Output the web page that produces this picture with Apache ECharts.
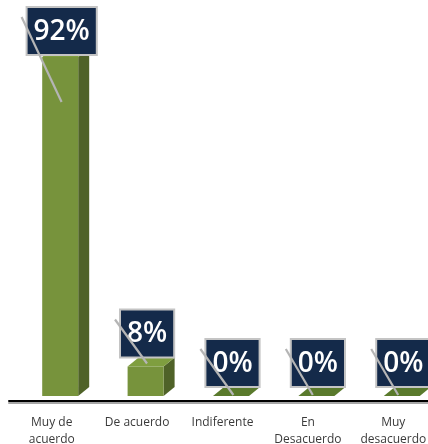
<!DOCTYPE html>
<html>
<head>
<meta charset="utf-8">
<script src="https://cdn.jsdelivr.net/npm/echarts@6/dist/echarts.min.js"></script>
<style>
  html, body { margin: 0; padding: 0; background: #ffffff; }
  #chart { width: 428px; height: 444px; }
</style>
</head>
<body>
<div id="chart"></div>
<script>
// Survey answers and their share of responses (%)
const categories = ['Muy de\nacuerdo', 'De acuerdo', 'Indiferente', 'En\nDesacuerdo', 'Muy\ndesacuerdo'];
const percentages = [92, 8, 0, 0, 0];
const valueLabels = ['92%', '8%', '0%', '0%', '0%'];

// Pseudo-3D bar geometry (pixels)
const BAR = { left: -9.5, width: 36, depthX: 11, depthY: 9, lift: 5 };
const BOX = { pad: 7, height: 48, minTop: 7, font: "600 28px 'Open Sans'" };
// Leader line end point relative to the label box (x from box left, y below box bottom)
const leaderEnd = [[35, 47], [27, 6], [28, 8], [22, 8], [22, 8]];

const measureCtx = document.createElement('canvas').getContext('2d');
function textWidth(str, font) {
  measureCtx.font = font;
  return measureCtx.measureText(str).width;
}

const chart = echarts.init(document.getElementById('chart'), null, { renderer: 'canvas' });

chart.setOption({
  backgroundColor: '#ffffff',
  animation: false,
  grid: { left: 9, width: 427, top: 32.5, bottom: 43, containLabel: false, outerBoundsMode: 'none' },
  xAxis: {
    type: 'category',
    data: categories,
    axisLine: {
      lineStyle: { color: '#000000', width: 2, shadowColor: '#a6a6a6', shadowOffsetY: 2, shadowBlur: 0 }
    },
    axisTick: { show: false },
    axisLabel: {
      interval: 0,
      color: '#3a3a3a',
      fontFamily: 'Open Sans',
      fontSize: 12,
      lineHeight: 17,
      margin: 13
    }
  },
  yAxis: { type: 'value', min: 0, max: 100, show: false },
  series: [{
    type: 'custom',
    clip: false,
    data: percentages.map((v, i) => [i, v]),
    renderItem: function (params, api) {
      const idx = params.dataIndex;
      const i = api.value(0);
      const v = api.value(1);
      const base = api.coord([i, 0]);
      const top = api.coord([i, v]);
      const x0 = base[0] + BAR.left;
      const x1 = x0 + BAR.width;
      const yb = base[1] - BAR.lift;
      const yt = top[1] - BAR.lift;
      const dx = BAR.depthX, dy = BAR.depthY;

      const children = [];
      // side face
      children.push({
        type: 'polygon',
        shape: { points: [[x1, yt], [x1 + dx, yt - dy], [x1 + dx, yb - dy], [x1, yb]] },
        style: { fill: '#4f6228' }
      });
      // top face
      children.push({
        type: 'polygon',
        shape: { points: [[x0, yt], [x0 + dx, yt - dy], [x1 + dx, yt - dy], [x1, yt]] },
        style: { fill: v > 0 ? '#7f9e3f' : '#5a7a2c' }
      });
      // front face
      if (yb - yt > 0) {
        children.push({
          type: 'rect',
          shape: { x: x0, y: yt, width: BAR.width, height: yb - yt },
          style: { fill: '#77933c' }
        });
      }

      // value label box
      const label = valueLabels[idx];
      const boxW = textWidth(label, BOX.font) + BOX.pad * 2;
      const boxCx = (x0 + x1) / 2 + 1.5;
      let boxTop = yt - dy - BOX.height;
      if (boxTop < BOX.minTop) boxTop = BOX.minTop;
      const boxLeft = boxCx - boxW / 2;
      const boxBottom = boxTop + BOX.height;
      children.push({
        type: 'rect',
        shape: { x: boxLeft, y: boxTop, width: boxW, height: BOX.height },
        style: { fill: '#142a4a', stroke: '#c4c4c4', lineWidth: 2 }
      });
      children.push({
        type: 'text',
        style: {
          text: label, x: boxCx, y: boxTop + BOX.height / 2 + 1,
          align: 'center', verticalAlign: 'middle',
          font: BOX.font, fill: '#ffffff'
        }
      });
      // leader line
      const end = leaderEnd[idx];
      children.push({
        type: 'line',
        shape: { x1: boxLeft - 5, y1: boxTop + 10, x2: boxLeft + end[0], y2: boxBottom + end[1] },
        style: { stroke: '#b5b5b5', lineWidth: 2.2 }
      });

      return { type: 'group', children: children };
    }
  }]
});
</script>
</body>
</html>
